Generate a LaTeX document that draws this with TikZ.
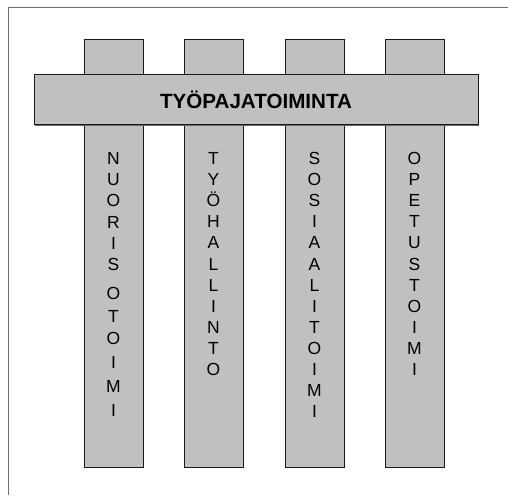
\documentclass[tikz,border=0pt]{standalone}
\usepackage{fontspec}
\setmainfont{Liberation Sans}
\usetikzlibrary{shadows}
\definecolor{boxgray}{HTML}{C0C0C0}
\definecolor{edgegray}{HTML}{1A1A1A}
\definecolor{framegray}{HTML}{6E6E6E}
\tikzset{
  panel/.style={draw=edgegray, line width=1pt, fill=boxgray, inner sep=0pt, outer sep=0pt,
    drop shadow={shadow xshift=1.2pt, shadow yshift=-1.2pt, fill=black!60, opacity=1}},
  pillar/.style={panel, minimum width=59pt, minimum height=427pt},
  letter/.style={font=\fontsize{17.5}{19}\selectfont, anchor=base, inner sep=0pt},
  title/.style={font=\bfseries\fontsize{20.6}{22}\selectfont}
}
\begin{document}
\begin{tikzpicture}[x=1pt, y=-1pt]
  \useasboundingbox (0,0) rectangle (508,495);
  % open frame: top and left edges
  \coordinate (fa) at (8.5,7.5);
  \coordinate (fb) at (508,7.5);
  \coordinate (fc) at (8.5,495);
  \draw[framegray, line width=1.9pt] (fb) -- (fa) -- (fc);

  % the four pillars
  \node[pillar] (p1) at (113.5,253.5) {};
  \node[pillar] (p2) at (213.5,253.5) {};
  \node[pillar] (p3) at (314.5,253.5) {};
  \node[pillar] (p4) at (414.5,253.5) {};

  % cross beam
  \node[panel, minimum width=444pt, minimum height=50pt, title] (beam) at (256,99.5)
    {TYÖPAJATOIMINTA};

  % letters running down each pillar (baseline y values)
  \foreach \c/\y [count=\i] in {N/164.5,U/185.7,O/206.9,R/228.1,I/249.3,S/270.5,
      O/299.3,T/322.0,O/344.7,I/368.4,M/392.2,I/416.5}
    \node[letter] (a\i) at (113.5,\y) {\c};
  \foreach \c [count=\i] in {T,Y,Ö,H,A,L,L,I,N,T,O}
    \node[letter] (b\i) at (213.5,{164.5+21.1*(\i-1)}) {\c};
  \foreach \c [count=\i] in {S,O,S,I,A,A,L,I,T,O,I,M,I}
    \node[letter] (c\i) at (314.5,{164.5+21.1*(\i-1)}) {\c};
  \foreach \c [count=\i] in {O,P,E,T,U,S,T,O,I,M,I}
    \node[letter] (d\i) at (414.5,{164.5+21.1*(\i-1)}) {\c};
\end{tikzpicture}
\end{document}
